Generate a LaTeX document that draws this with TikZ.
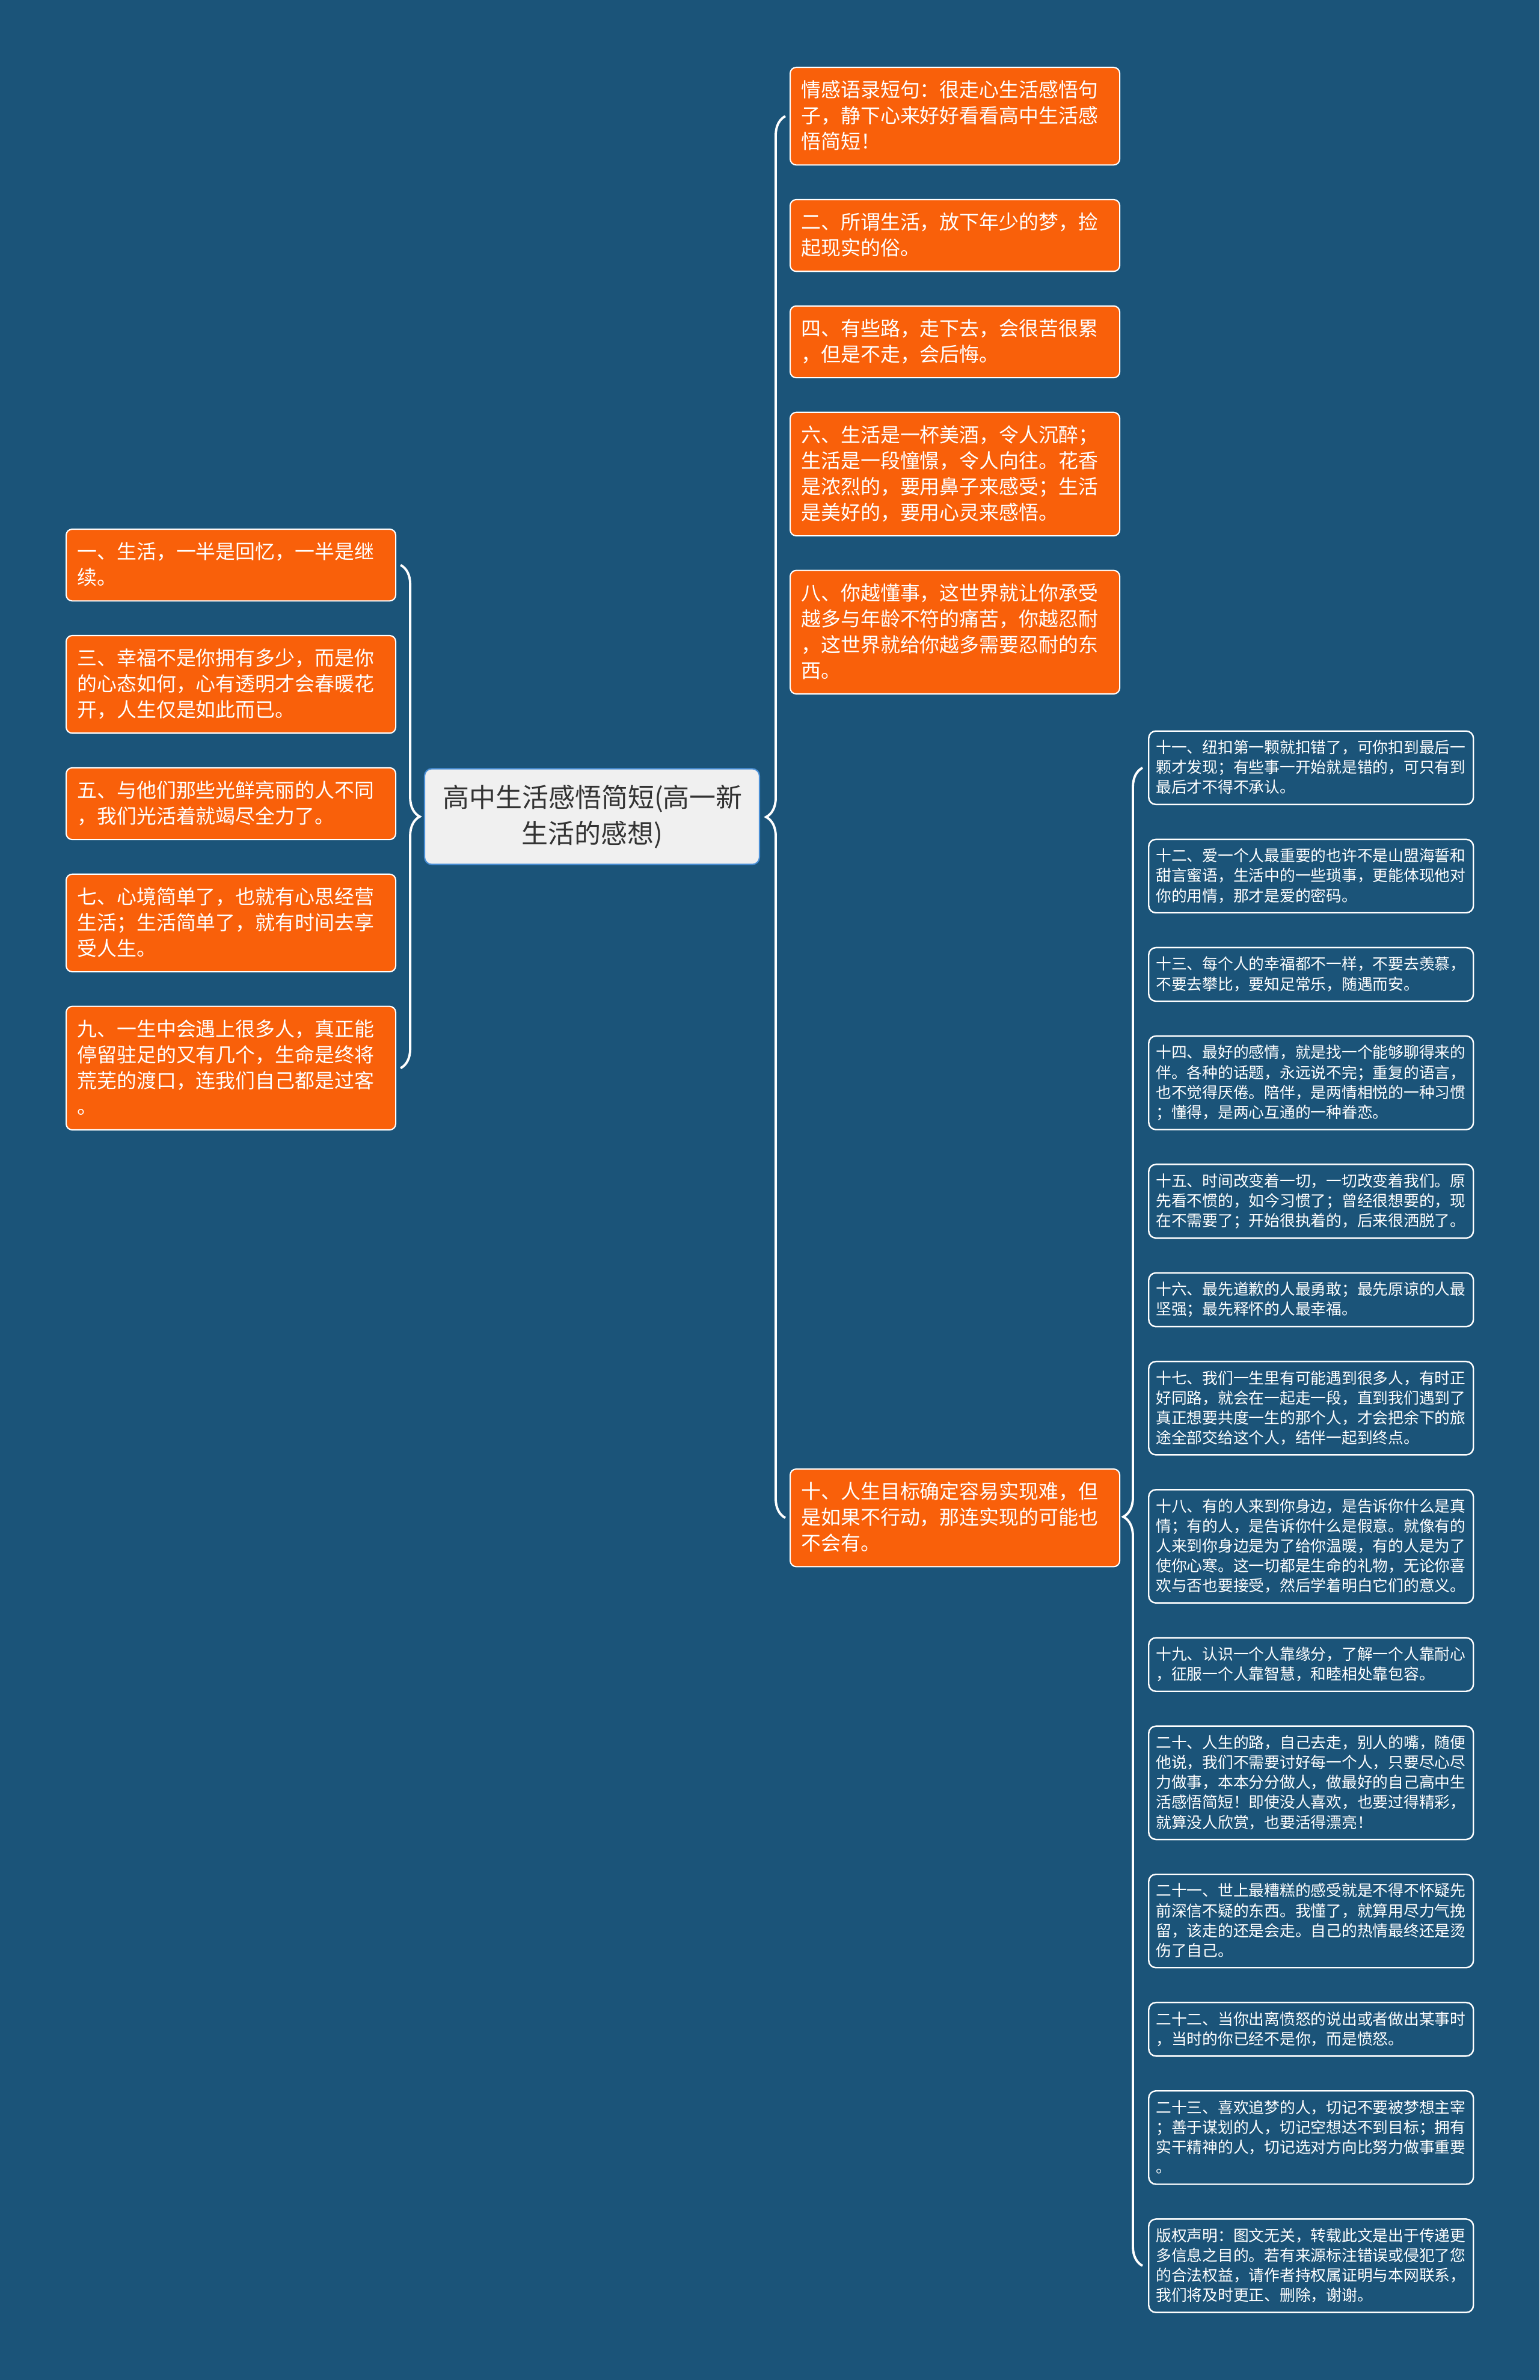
\documentclass[tikz,border=0pt]{standalone}
\usepackage{fontspec}
\newfontfamily\cjk{Noto Sans CJK SC}
\usetikzlibrary{positioning,decorations.pathreplacing}
\definecolor{latar}{HTML}{1B5479}
\definecolor{jinghuang}{HTML}{F9600A}
\definecolor{zhongbian}{HTML}{4A8FD6}
\definecolor{zhongdi}{HTML}{F0F0F0}
\newcommand\zhicheng{\rule[-0.15em]{0pt}{1em}}

\begin{document}
\begin{tikzpicture}[
zhuti/.style={draw=zhongbian, fill=zhongdi, line width=0.6pt, rounded corners=1.2mm, text=black!80, align=center, text width=4.97cm, inner xsep=0.3cm, inner ysep=0.265cm, font=\cjk\fontsize{0.44cm}{0.6cm}\selectfont},
chengse/.style={draw=white, fill=jinghuang, line width=0.6pt, rounded corners=1mm, text=white, align=left, text width=5.11cm, inner xsep=0.185cm, inner ysep=0.217cm, font=\cjk\fontsize{0.329cm}{0.43cm}\selectfont, anchor=north west},
xiaohe/.style={draw=white, fill=latar, line width=0.7pt, rounded corners=1.2mm, text=white, align=left, text width=5.16cm, inner xsep=0.12cm, inner ysep=0.151cm, font=\cjk\fontsize{0.2575cm}{0.331cm}\selectfont, anchor=north west},
kuohao/.style={draw=white, line width=1.1pt, decorate, decoration={brace, amplitude=0.32cm}},
execute at begin node=\zhicheng, execute at end node=\zhicheng
]
\fill[latar] (0,0) rectangle (25.6,-39.58);

\node[zhuti] (zhong) at (9.845,-13.58) {高中生活感悟简短(高一新\\生活的感想)};

\node[chengse] (z1) at (1.09,-8.79) {一、生活，一半是回忆，一半是继\\续。};
\node[chengse, below=0.555cm of z1] (z3) {三、幸福不是你拥有多少，而是你\\的心态如何，心有透明才会春暖花\\开，人生仅是如此而已。};
\node[chengse, below=0.555cm of z3] (z5) {五、与他们那些光鲜亮丽的人不同\\，我们光活着就竭尽全力了。};
\node[chengse, below=0.555cm of z5] (z7) {七、心境简单了，也就有心思经营\\生活；生活简单了，就有时间去享\\受人生。};
\node[chengse, below=0.555cm of z7] (z9) {九、一生中会遇上很多人，真正能\\停留驻足的又有几个，生命是终将\\荒芜的渡口，连我们自己都是过客\\。};

\node[chengse] (y0) at (13.13,-1.11) {情感语录短句：很走心生活感悟句\\子，静下心来好好看看高中生活感\\悟简短！};
\node[chengse, below=0.555cm of y0] (y2) {二、所谓生活，放下年少的梦，捡\\起现实的俗。};
\node[chengse, below=0.555cm of y2] (y4) {四、有些路，走下去，会很苦很累\\，但是不走，会后悔。};
\node[chengse, below=0.555cm of y4] (y6) {六、生活是一杯美酒，令人沉醉；\\生活是一段憧憬，令人向往。花香\\是浓烈的，要用鼻子来感受；生活\\是美好的，要用心灵来感悟。};
\node[chengse, below=0.555cm of y6] (y8) {八、你越懂事，这世界就让你承受\\越多与年龄不符的痛苦，你越忍耐\\，这世界就给你越多需要忍耐的东\\西。};
\node[chengse] (y10) at (13.13,-24.42) {十、人生目标确定容易实现难，但\\是如果不行动，那连实现的可能也\\不会有。};

\node[xiaohe] (x11) at (19.09,-12.145) {十一、纽扣第一颗就扣错了，可你扣到最后一\\颗才发现；有些事一开始就是错的，可只有到\\最后才不得不承认。};
\node[xiaohe, below=0.555cm of x11] (x12) {十二、爱一个人最重要的也许不是山盟海誓和\\甜言蜜语，生活中的一些琐事，更能体现他对\\你的用情，那才是爱的密码。};
\node[xiaohe, below=0.555cm of x12] (x13) {十三、每个人的幸福都不一样，不要去羡慕，\\不要去攀比，要知足常乐，随遇而安。};
\node[xiaohe, below=0.555cm of x13] (x14) {十四、最好的感情，就是找一个能够聊得来的\\伴。各种的话题，永远说不完；重复的语言，\\也不觉得厌倦。陪伴，是两情相悦的一种习惯\\；懂得，是两心互通的一种眷恋。};
\node[xiaohe, below=0.555cm of x14] (x15) {十五、时间改变着一切，一切改变着我们。原\\先看不惯的，如今习惯了；曾经很想要的，现\\在不需要了；开始很执着的，后来很洒脱了。};
\node[xiaohe, below=0.555cm of x15] (x16) {十六、最先道歉的人最勇敢；最先原谅的人最\\坚强；最先释怀的人最幸福。};
\node[xiaohe, below=0.555cm of x16] (x17) {十七、我们一生里有可能遇到很多人，有时正\\好同路，就会在一起走一段，直到我们遇到了\\真正想要共度一生的那个人，才会把余下的旅\\途全部交给这个人，结伴一起到终点。};
\node[xiaohe, below=0.555cm of x17] (x18) {十八、有的人来到你身边，是告诉你什么是真\\情；有的人，是告诉你什么是假意。就像有的\\人来到你身边是为了给你温暖，有的人是为了\\使你心寒。这一切都是生命的礼物，无论你喜\\欢与否也要接受，然后学着明白它们的意义。};
\node[xiaohe, below=0.555cm of x18] (x19) {十九、认识一个人靠缘分，了解一个人靠耐心\\，征服一个人靠智慧，和睦相处靠包容。};
\node[xiaohe, below=0.555cm of x19] (x20) {二十、人生的路，自己去走，别人的嘴，随便\\他说，我们不需要讨好每一个人，只要尽心尽\\力做事，本本分分做人，做最好的自己高中生\\活感悟简短！即使没人喜欢，也要过得精彩，\\就算没人欣赏，也要活得漂亮！};
\node[xiaohe, below=0.555cm of x20] (x21) {二十一、世上最糟糕的感受就是不得不怀疑先\\前深信不疑的东西。我懂了，就算用尽力气挽\\留，该走的还是会走。自己的热情最终还是烫\\伤了自己。};
\node[xiaohe, below=0.555cm of x21] (x22) {二十二、当你出离愤怒的说出或者做出某事时\\，当时的你已经不是你，而是愤怒。};
\node[xiaohe, below=0.555cm of x22] (x23) {二十三、喜欢追梦的人，切记不要被梦想主宰\\；善于谋划的人，切记空想达不到目标；拥有\\实干精神的人，切记选对方向比努力做事重要\\。};
\node[xiaohe, below=0.555cm of x23] (banquan) {版权声明：图文无关，转载此文是出于传递更\\多信息之目的。若有来源标注错误或侵犯了您\\的合法权益，请作者持权属证明与本网联系，\\我们将及时更正、删除，谢谢。};

\draw[kuohao] ([xshift=0.07cm]z1.east) -- ([xshift=0.07cm]z9.east);
\draw[kuohao] ([xshift=-0.07cm]y10.west) -- ([xshift=-0.07cm]y0.west);
\draw[kuohao] ([xshift=-0.09cm]banquan.west) -- ([xshift=-0.09cm]x11.west);
\end{tikzpicture}
\end{document}
